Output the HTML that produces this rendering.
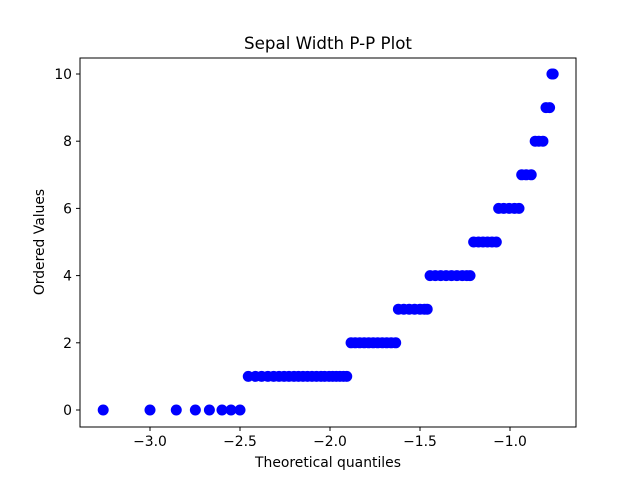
<!DOCTYPE html>
<html><head><meta charset="utf-8"><style>
body{margin:0;background:#fff}
svg text{font-family:"DejaVu Sans","Liberation Sans",sans-serif;fill:#000}
</style></head><body>
<svg id="chart" width="640" height="480" xmlns="http://www.w3.org/2000/svg">
<rect width="640" height="480" fill="#fff"/>
<text x="328" y="49" text-anchor="middle" font-size="16.7">Sepal Width P-P Plot</text>
<g id="marks"></g>
<g id="axes"></g>
<text x="328" y="467" text-anchor="middle" font-size="13.9">Theoretical quantiles</text>
<text transform="translate(44,242) rotate(-90)" text-anchor="middle" font-size="13.9">Ordered Values</text>
</svg>
<script>
const yLevels=[0,1,2,3,4,5,6,7,8,9,10];
const level0=[-3.26,-3.0,-2.854,-2.748,-2.67,-2.60,-2.55,-2.50];
const level1=[-2.454,-2.415,-2.38,-2.345,-2.313,-2.283,-2.255,-2.228,-2.2,-2.175,-2.15,-2.125,-2.1,-2.075,-2.05,-2.03,-2.005,-1.985,-1.965,-1.945,-1.925,-1.907];
const level2=[-1.883,-1.86,-1.835,-1.81,-1.785,-1.76,-1.735,-1.71,-1.685,-1.66,-1.635];
const level3=[-1.62,-1.59,-1.56,-1.53,-1.5,-1.475,-1.46];
const level4=[-1.444,-1.415,-1.385,-1.355,-1.325,-1.295,-1.265,-1.24,-1.222];
const level5=[-1.202,-1.175,-1.15,-1.125,-1.1,-1.076];
const level6=[-1.063,-1.035,-1.005,-0.975,-0.95];
const level7=[-0.935,-0.91,-0.882];
const level8=[-0.86,-0.84,-0.817];
const level9=[-0.80,-0.78];
const level10=[-0.767,-0.76];
const xTicks=[-3.0,-2.5,-2.0,-1.5,-1.0];
const xTickLabels=["\u22123.0","\u22122.5","\u22122.0","\u22121.5","\u22121.0"];
const yTicks=[0,2,4,6,8,10];
const yTickLabels=["0","2","4","6","8","10"];
const levels=[level0,level1,level2,level3,level4,level5,level6,level7,level8,level9,level10];
const L=80,R=576,T=58,B=427;
function sx(v){return 330+(v+2.0)*180;}
function sy(v){return 410-v*33.6;}
const NS="http://www.w3.org/2000/svg";
const marks=document.getElementById('marks');
levels.forEach((arr,i)=>{arr.forEach(xv=>{
 const c=document.createElementNS(NS,'circle');
 c.setAttribute('cx',sx(xv));c.setAttribute('cy',sy(yLevels[i]));c.setAttribute('r',5.5);c.setAttribute('fill','#0000ff');
 
 
 marks.appendChild(c);});});
const axes=document.getElementById('axes');
const fr=document.createElementNS(NS,'rect');
fr.setAttribute('x',L);fr.setAttribute('y',T);fr.setAttribute('width',R-L);fr.setAttribute('height',B-T);
fr.setAttribute('fill','none');fr.setAttribute('stroke','#000');fr.setAttribute('stroke-width','1');


axes.appendChild(fr);
xTicks.forEach((v,i)=>{
 const l=document.createElementNS(NS,'line');
 l.setAttribute('x1',sx(v));l.setAttribute('x2',sx(v));l.setAttribute('y1',B);l.setAttribute('y2',B+4);l.setAttribute('stroke','#000');
 
 
 axes.appendChild(l);
 const t=document.createElementNS(NS,'text');
 t.setAttribute('x',sx(v));t.setAttribute('y',B+19);t.setAttribute('text-anchor','middle');t.setAttribute('font-size','13.9');
 t.textContent=xTickLabels[i];
 
 
 axes.appendChild(t);});
yTicks.forEach((v,i)=>{
 const l=document.createElementNS(NS,'line');
 l.setAttribute('x1',L-4);l.setAttribute('x2',L);l.setAttribute('y1',sy(v));l.setAttribute('y2',sy(v));l.setAttribute('stroke','#000');
 
 
 axes.appendChild(l);
 const t=document.createElementNS(NS,'text');
 t.setAttribute('x',L-8);t.setAttribute('y',sy(v)+5);t.setAttribute('text-anchor','end');t.setAttribute('font-size','13.9');
 t.textContent=yTickLabels[i];
 
 
 axes.appendChild(t);});
</script>
</body></html>
